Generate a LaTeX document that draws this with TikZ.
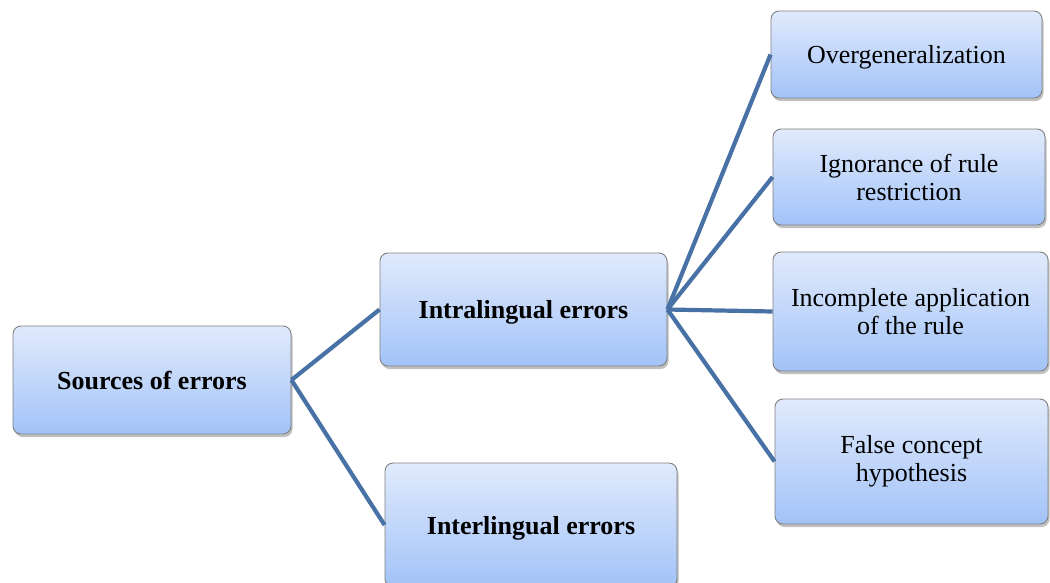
\documentclass[tikz,border=0pt]{standalone}
\usepackage{fontspec}
\setmainfont{Liberation Serif}
\usetikzlibrary{shadows}
\definecolor{boxtop}{RGB}{225,234,252}
\definecolor{boxbot}{RGB}{162,195,248}
\definecolor{boxline}{RGB}{128,128,128}
\definecolor{linkblue}{RGB}{72,114,165}
\tikzset{
  box/.style={draw=boxline, line width=0.9pt, rounded corners=8pt,
    top color=boxtop, bottom color=boxbot, align=center,
    font=\fontsize{26}{28}\selectfont, inner sep=4pt,
    drop shadow={shadow xshift=1.5pt, shadow yshift=-3pt, opacity=0.35, fill=black!70}},
  boldbox/.style={box, font=\fontsize{26}{28}\selectfont\bfseries},
  oneline/.style={text depth=0pt},
  link/.style={draw=linkblue, line width=4.2pt}
}
\begin{document}
\begin{tikzpicture}[x=1pt, y=-1pt]
  \useasboundingbox (0,0) rectangle (1050,582);
  % root and the two main branches
  \node[boldbox, oneline, minimum width=278pt, minimum height=108pt] (src) at (152,380) {Sources of errors};
  \node[boldbox, oneline, minimum width=287pt, minimum height=113pt] (intra) at (523.5,309.5) {Intralingual errors};
  \node[boldbox, oneline, minimum width=292pt, minimum height=124pt] (inter) at (531,525) {Interlingual errors};
  % kinds of intralingual errors
  \node[box, oneline, minimum width=271pt, minimum height=87pt] (over) at (906.5,54.5) {Overgeneralization};
  \node[box, minimum width=272pt, minimum height=96pt] (ign) at (909,177) {Ignorance of rule\\restriction};
  \node[box, minimum width=275pt, minimum height=119pt] (inc) at (910.5,311.5) {Incomplete application\\of the rule};
  \node[box, minimum width=273pt, minimum height=125pt] (fal) at (911.5,461.5) {False concept\\hypothesis};
  % connectors
  \path[link] (src.east) -- (intra.west);
  \path[link] (src.east) -- (inter.west);
  \path[link] (intra.east) -- (over.west);
  \path[link] (intra.east) -- (ign.west);
  \path[link] (intra.east) -- (inc.west);
  \path[link] (intra.east) -- (fal.west);
\end{tikzpicture}
\end{document}
